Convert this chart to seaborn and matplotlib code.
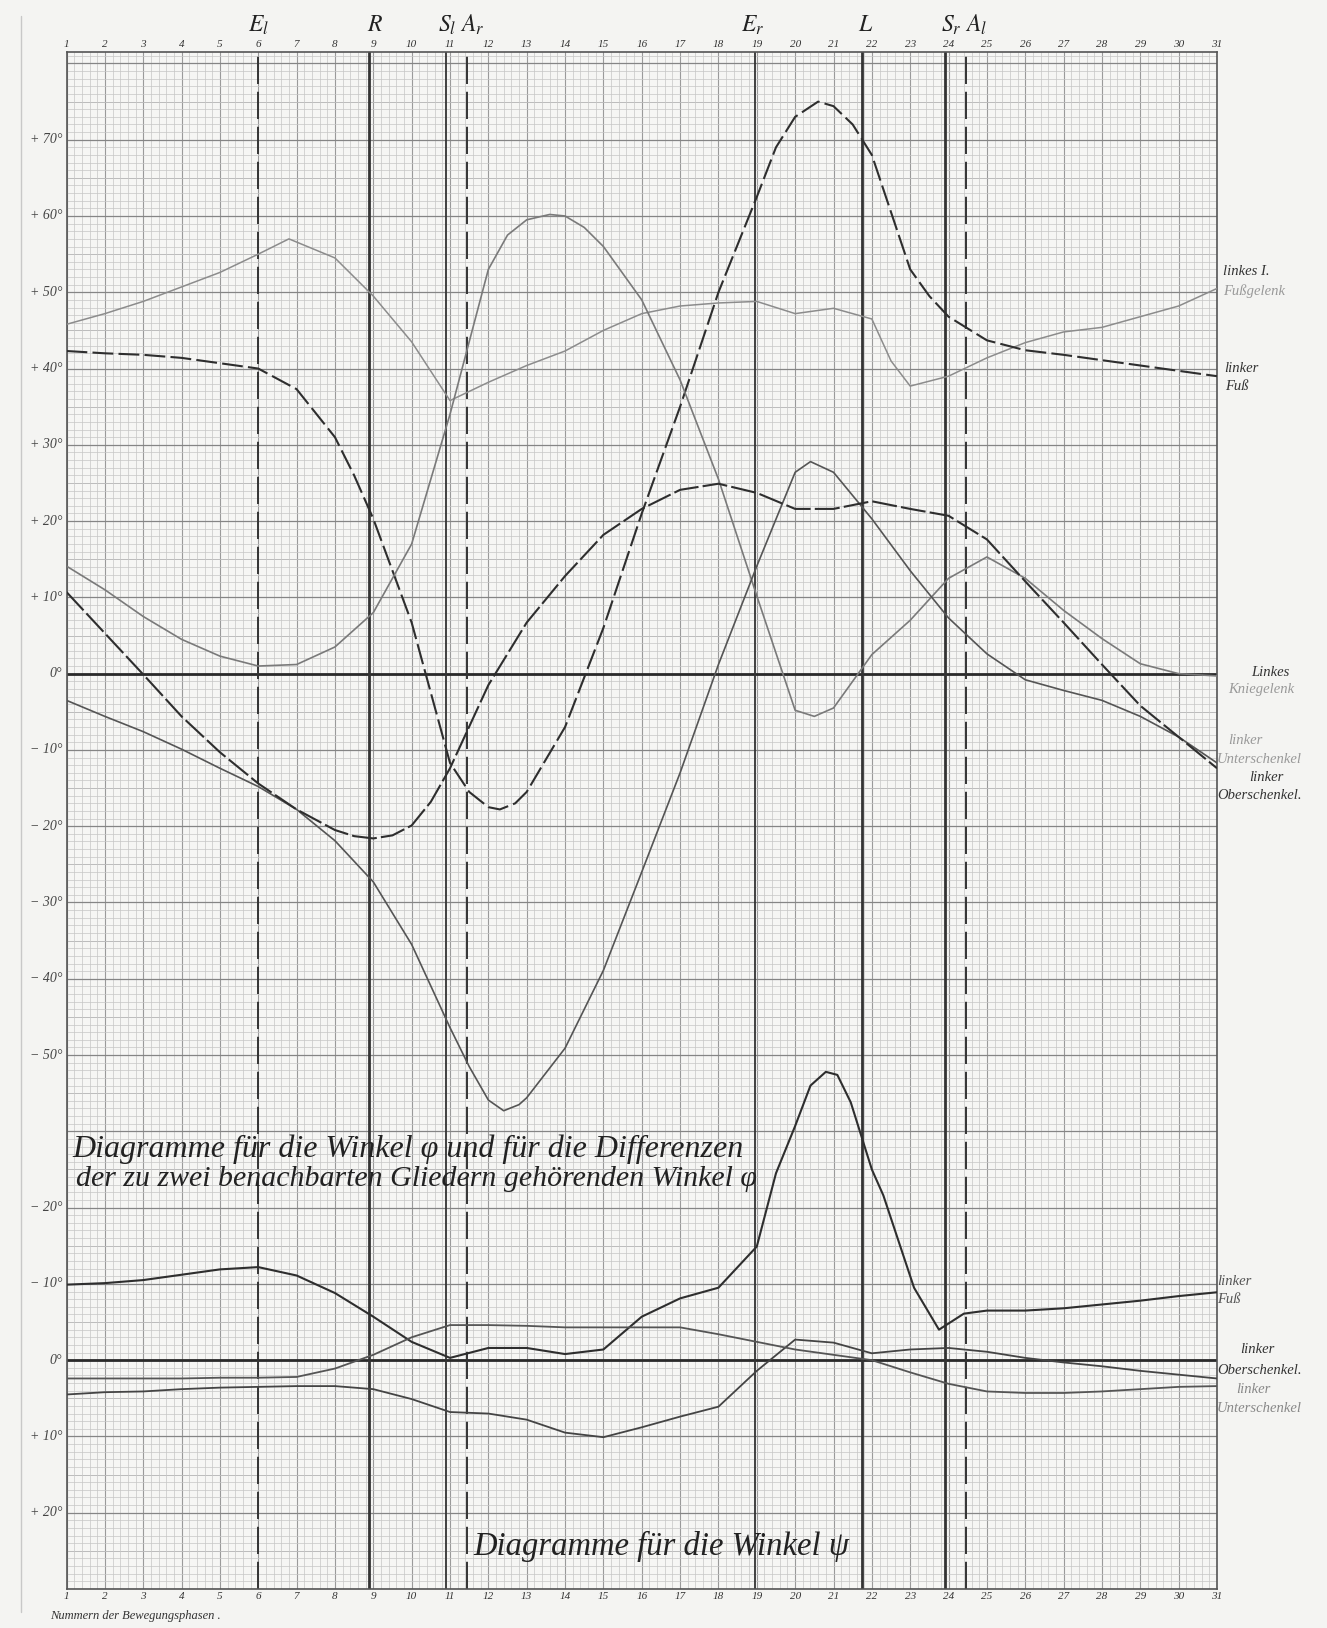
import matplotlib
matplotlib.use("Agg")
import matplotlib.pyplot as plt
import seaborn as sns
import numpy as np
import pandas as pd
from matplotlib.ticker import MultipleLocator
from matplotlib.lines import Line2D

# ---------------- data ----------------
phases = list(range(1, 32))

# upper diagram (angles phi and differences), degrees
fussgelenk_x = [1,2,3,4,5,6,6.8,8,9,10,11,12,13,14,15,16,17,18,19,20,21,22,22.5,23,24,25,26,27,28,29,30,31]
fussgelenk_y = [45.8,47.2,48.8,50.7,52.6,55,57,54.5,49.5,43.5,35.8,38.2,40.4,42.3,45,47.2,48.2,48.6,48.8,47.2,47.9,46.5,41,37.7,39,41.4,43.4,44.8,45.4,46.8,48.2,50.5]

fuss_x = [1,2,3,4,5,6,7,8,8.5,9,10,11,11.5,12,12.3,12.7,13,14,15,16,17,18,19,19.5,20,20.6,21,21.5,22,22.5,23,23.5,24,25,26,27,28,29,30,31]
fuss_y = [42.3,42,41.8,41.4,40.7,40,37.3,31,26,20.3,6.7,-11.7,-15.5,-17.5,-17.8,-17,-15.5,-7,6,21,35,50,62.5,69,73,75,74.4,72,68,60.5,53,49.5,46.8,43.7,42.4,41.8,41.1,40.4,39.7,39]

knie_x = [1,2,3,4,5,6,7,8,9,10,11,12,12.5,13,13.6,14,14.5,15,16,17,18,19,20,20.5,21,22,23,24,25,26,27,28,29,30,31]
knie_y = [14.1,11,7.5,4.5,2.3,1.0,1.2,3.5,8,17,34,53,57.5,59.5,60.2,60,58.5,56,49,38.5,25.5,10.2,-4.8,-5.6,-4.5,2.5,7,12.5,15.3,12.5,8.3,4.6,1.3,0,-0.3]

unter_x = [1,2,3,4,5,6,7,8,9,10,11,11.5,12,12.4,12.8,13,14,15,16,17,18,19,20,20.4,21,22,23,24,25,26,27,28,29,30,31]
unter_y = [-3.5,-5.6,-7.6,-9.9,-12.4,-14.8,-17.8,-21.9,-27.3,-35.5,-46.4,-51.5,-55.9,-57.3,-56.5,-55.6,-49.1,-38.9,-26,-13,1.2,14.1,26.4,27.8,26.4,20.3,13.5,7.3,2.6,-0.8,-2.2,-3.5,-5.6,-8.3,-11.7]

ober_x = [1,2,3,4,5,6,7,8,8.5,9,9.5,10,10.5,11,12,13,14,15,16,17,18,19,20,21,22,23,24,25,26,27,28,29,30,31]
ober_y = [10.7,5.3,-0.1,-5.6,-10.3,-14.4,-17.8,-20.5,-21.3,-21.6,-21.2,-19.9,-16.8,-12.4,-1.5,6.7,12.8,18.2,21.6,24.1,24.9,23.7,21.6,21.6,22.6,21.6,20.7,17.6,12.1,6.7,1.2,-4.2,-8.3,-12.4]

# lower diagram (angles psi), degrees, positive downward
psi_fuss_x = [1,2,3,4,5,6,7,8,9,10,11,12,13,14,15,16,17,18,19,19.5,20,20.4,20.8,21.1,21.45,22,22.3,23.1,23.75,24.4,25,26,27,28,29,30,31]
psi_fuss_y = [-9.9,-10.1,-10.5,-11.2,-11.9,-12.2,-11.1,-8.8,-5.7,-2.4,-0.3,-1.6,-1.6,-0.8,-1.4,-5.7,-8.1,-9.5,-14.9,-24.5,-30.7,-36,-37.8,-37.4,-33.8,-25,-21.6,-9.5,-4,-6.1,-6.5,-6.5,-6.8,-7.3,-7.8,-8.4,-8.9]
psi_unter_y = [2.4,2.4,2.4,2.4,2.3,2.3,2.2,1.1,-0.7,-3.0,-4.6,-4.6,-4.5,-4.3,-4.3,-4.3,-4.3,-3.4,-2.4,-1.4,-0.7,0,1.6,3.1,4.1,4.3,4.3,4.1,3.8,3.5,3.4]
psi_ober_y = [4.5,4.2,4.1,3.8,3.6,3.5,3.4,3.4,3.8,5.1,6.8,7.0,7.8,9.5,10.1,8.8,7.4,6.1,1.4,-2.7,-2.3,-0.9,-1.4,-1.6,-1.1,-0.3,0.3,0.8,1.4,1.9,2.4]
psi_zero = -90  # position of the psi-diagram zero line in the shared scale

event_names = ["E_l", "R", "S_l", "A_r", "E_r", "L", "S_r", "A_l"]
event_pos = [6.0, 8.88, 10.9, 11.45, 18.95, 21.75, 23.9, 24.45]
event_style = ["dash", "thick", "solid", "dash", "solid", "thick", "thick", "dash"]

upper_ticks = [70, 60, 50, 40, 30, 20, 10, 0, -10, -20, -30, -40, -50]
upper_labels = ["+ 70°", "+ 60°", "+ 50°", "+ 40°", "+ 30°", "+ 20°", "+ 10°", "0°",
                "− 10°", "− 20°", "− 30°", "− 40°", "− 50°"]
lower_ticks = [-20, -10, 0, 10, 20]
lower_labels = ["− 20°", "− 10°", "0°", "+ 10°", "+ 20°"]

# ---------------- figure ----------------
sns.set_theme(style="white")
plt.rcParams['font.family'] = ['Liberation Serif', 'DejaVu Serif']
plt.rcParams['mathtext.fontset'] = 'stix'

W, H = 1327, 1628
fig = plt.figure(figsize=(W / 100, H / 100), dpi=100, facecolor='#f4f4f2')
L0, R0, T0, B0 = 66.5, 1217, 52, 1589
ax = fig.add_axes([L0 / W, 1 - B0 / H, (R0 - L0) / W, (B0 - T0) / H])
ax.set_facecolor('#f6f6f4')
ax.set_xlim(1, 31)
ax.set_ylim(-120, 81.5)

# grid
ax.xaxis.set_major_locator(MultipleLocator(1))
ax.xaxis.set_minor_locator(MultipleLocator(0.2))
ax.yaxis.set_major_locator(MultipleLocator(10))
ax.yaxis.set_minor_locator(MultipleLocator(1))
ax.grid(which='minor', color='#c6c6c6', lw=0.5)
ax.grid(which='major', axis='x', color='#9a9a9a', lw=0.8)
ax.grid(which='major', axis='y', color='#858585', lw=0.9)
for yv in np.arange(-115, 81, 10):
    ax.axhline(yv, color='#a8a8a8', lw=0.7, zorder=0.5)
ax.set_axisbelow(True)
ax.axhline(0, color='#2a2a2a', lw=2.0, zorder=2)
ax.axhline(psi_zero, color='#2a2a2a', lw=2.0, zorder=2)

for s in ax.spines.values():
    s.set_color('#555555')
    s.set_linewidth(1.2)

# x tick labels top and bottom
ax.set_xticks(phases)
ax.set_xticklabels([str(p) for p in phases], fontsize=8, style='italic', color='#333')
ax.tick_params(axis='x', which='both', length=0, top=False, bottom=False,
               labeltop=True, labelbottom=True, pad=2)
ax.set_yticklabels([])
ax.tick_params(axis='y', which='both', length=0, left=False, labelleft=False)

# y labels (custom positions)
for v, lab in zip(upper_ticks, upper_labels):
    ax.text(-0.004, v, lab, transform=ax.get_yaxis_transform(), ha='right', va='center',
            fontsize=10, style='italic', color='#444')
for v, lab in zip(lower_ticks, lower_labels):
    ax.text(-0.004, psi_zero - v, lab, transform=ax.get_yaxis_transform(), ha='right', va='center',
            fontsize=10, style='italic', color='#444')

# event lines
for name, pos, st in zip(event_names, event_pos, event_style):
    if st == 'dash':
        ax.axvline(pos, color='#333', lw=1.4, ls=(0, (14, 4)), zorder=2)
    elif st == 'thick':
        ax.axvline(pos, color='#333', lw=2.0, zorder=2)
    else:
        ax.axvline(pos, color='#333', lw=1.3, zorder=2)

# curves
dark = '#2e2e2e'
grey = '#7a7a7a'
sns.lineplot(x=fussgelenk_x, y=fussgelenk_y, ax=ax, color='#8c8c8c', lw=1.1, sort=False, estimator=None, zorder=3)
sns.lineplot(x=fuss_x, y=fuss_y, ax=ax, color=dark, lw=1.5, sort=False, estimator=None, zorder=3,
             linestyle=(0, (10, 2.5)))
sns.lineplot(x=knie_x, y=knie_y, ax=ax, color=grey, lw=1.2, sort=False, estimator=None, zorder=3)
sns.lineplot(x=unter_x, y=unter_y, ax=ax, color='#555', lw=1.2, sort=False, estimator=None, zorder=3)
sns.lineplot(x=ober_x, y=ober_y, ax=ax, color=dark, lw=1.5, sort=False, estimator=None, zorder=3,
             linestyle=(0, (12, 2)))

sns.lineplot(x=psi_fuss_x, y=[psi_zero - v for v in psi_fuss_y], ax=ax, color=dark, lw=1.5,
             sort=False, estimator=None, zorder=3)
sns.lineplot(x=phases, y=[psi_zero - v for v in psi_ober_y], ax=ax, color='#444', lw=1.3,
             sort=False, estimator=None, zorder=3)
sns.lineplot(x=phases, y=[psi_zero - v for v in psi_unter_y], ax=ax, color='#555', lw=1.3,
             sort=False, estimator=None, zorder=3)
ax.set_xlabel('')
ax.set_ylabel('')

# event labels at top
top_labels = [(6.0, r'$E_l$'), (9.05, r'$R$'), (11.3, r'$S_l\ A_r$'),
              (18.9, r'$E_r$'), (21.85, r'$L$'), (24.4, r'$S_r\ A_l$')]
for xp, t in top_labels:
    ax.text(xp, 85.0, t, ha='center', va='center', fontsize=17, color='#222', clip_on=False)

# right labels
rl = dict(transform=ax.transData, ha='left', va='center', fontsize=10.5, style='italic', clip_on=False)
ax.text(31.15, 52.7, 'linkes I.', color='#333', **rl)
ax.text(31.15, 50.2, 'Fußgelenk', color='#999', **rl)
ax.text(31.2, 40.0, 'linker', color='#333', **rl)
ax.text(31.2, 37.7, 'Fuß', color='#333', **rl)
ax.text(31.9, 0.1, 'Linkes', color='#333', **rl)
ax.text(31.3, -2.1, 'Kniegelenk', color='#999', **rl)
ax.text(31.3, -8.7, 'linker', color='#999', **rl)
ax.text(31.0, -11.2, 'Unterschenkel', color='#999', **rl)
ax.text(31.85, -13.6, 'linker', color='#333', **rl)
ax.text(31.0, -16.0, 'Oberschenkel.', color='#333', **rl)
ax.text(31.0, -79.7, 'linker', color='#555', **rl)
ax.text(31.0, -82.0, 'Fuß', color='#555', **rl)
ax.text(31.6, -88.6, 'linker', color='#333', **rl)
ax.text(31.0, -91.3, 'Oberschenkel.', color='#333', **rl)
ax.text(31.5, -93.8, 'linker', color='#888', **rl)
ax.text(31.0, -96.4, 'Unterschenkel', color='#888', **rl)

# inner titles
ax.text(1.15, -62.4, 'Diagramme für die Winkel φ und für die Differenzen', ha='left', va='center',
        fontsize=23, style='italic', color='#222')
ax.text(1.25, -66.2, 'der zu zwei benachbarten Gliedern gehörenden Winkel φ', ha='left', va='center',
        fontsize=21.5, style='italic', color='#222')
ax.text(11.6, -114.4, 'Diagramme für die Winkel ψ', ha='left', va='center',
        fontsize=23.5, style='italic', color='#222')

fig.text(50 / W, 1 - 1616 / H, 'Nummern der Bewegungsphasen .', ha='left', va='center',
         fontsize=9, style='italic', color='#333')
fig.add_artist(Line2D([21 / W, 21 / W], [0.01, 0.99], color='#c8c8c8', lw=1.0))

fig.savefig('out.png', dpi=100, facecolor=fig.get_facecolor())
